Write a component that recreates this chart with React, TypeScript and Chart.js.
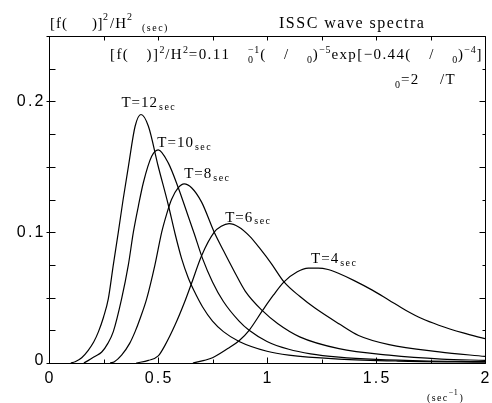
import React, { useEffect, useRef } from "react";
import { Chart, registerables } from "chart.js";

Chart.register(...registerables);

// ---- data ----
const omegaT12 = [0.10, 0.12, 0.15, 0.18, 0.205, 0.227, 0.25, 0.272, 0.295, 0.318, 0.34, 0.364, 0.395, 0.422, 0.456, 0.50, 0.547, 0.578, 0.608, 0.639, 0.666, 0.704, 0.75, 0.80, 0.872, 1.0, 1.1, 1.33, 1.6, 2.0];
const specT12 = [0, 0.001, 0.004, 0.0097, 0.016, 0.024, 0.035, 0.049, 0.075, 0.100, 0.125, 0.150, 0.181, 0.190, 0.181, 0.151, 0.121, 0.099, 0.080, 0.065, 0.055, 0.043, 0.032, 0.024, 0.0165, 0.009, 0.006, 0.003, 0.0015, 0.0007];

const omegaT10 = [0.16, 0.181, 0.21, 0.242, 0.27, 0.295, 0.333, 0.364, 0.387, 0.41, 0.433, 0.471, 0.501, 0.547, 0.593, 0.639, 0.666, 0.704, 0.75, 0.80, 0.872, 0.918, 1.0, 1.1, 1.2, 1.33, 1.5, 1.75, 2.0];
const specT10 = [0, 0.002, 0.005, 0.0084, 0.015, 0.024, 0.049, 0.075, 0.100, 0.120, 0.138, 0.158, 0.163, 0.153, 0.134, 0.112, 0.099, 0.080, 0.062, 0.047, 0.032, 0.025, 0.0165, 0.0105, 0.007, 0.0045, 0.0027, 0.0015, 0.001];

const omegaT8 = [0.28, 0.30, 0.333, 0.37, 0.395, 0.42, 0.448, 0.486, 0.517, 0.54, 0.562, 0.593, 0.62, 0.654, 0.70, 0.758, 0.80, 0.85, 0.90, 0.979, 1.05, 1.15, 1.33, 1.56, 1.8, 2.0];
const specT8 = [0, 0.001, 0.006, 0.015, 0.024, 0.035, 0.049, 0.075, 0.100, 0.114, 0.125, 0.134, 0.137, 0.134, 0.123, 0.100, 0.086, 0.070, 0.055, 0.040, 0.030, 0.020, 0.011, 0.006, 0.003, 0.002];

const omegaT6 = [0.40, 0.456, 0.501, 0.532, 0.578, 0.623, 0.654, 0.70, 0.758, 0.79, 0.826, 0.87, 0.92, 0.97, 1.02, 1.078, 1.15, 1.22, 1.33, 1.42, 1.56, 1.79, 2.0];
const specT6 = [0, 0.002, 0.0054, 0.0135, 0.029, 0.047, 0.061, 0.082, 0.100, 0.1045, 0.1065, 0.104, 0.097, 0.087, 0.076, 0.062, 0.051, 0.042, 0.030, 0.021, 0.014, 0.0085, 0.005];

const omegaT4 = [0.66, 0.712, 0.75, 0.82, 0.872, 0.918, 0.979, 1.03, 1.078, 1.139, 1.19, 1.235, 1.28, 1.33, 1.40, 1.483, 1.56, 1.636, 1.71, 1.788, 1.9, 2.0];
const specT4 = [0, 0.002, 0.004, 0.011, 0.017, 0.025, 0.040, 0.052, 0.062, 0.0697, 0.0725, 0.0726, 0.0715, 0.0684, 0.063, 0.0557, 0.048, 0.0404, 0.034, 0.0289, 0.023, 0.0186];

const periodLabels = ["12", "10", "8", "6", "4"];
const periodLabelOmega = [0.332, 0.497, 0.62, 0.808, 1.202];
const periodLabelSpec = [0.1954, 0.1648, 0.1414, 0.108, 0.0763];

const xTickValues = [0, 0.5, 1, 1.5, 2];
const xTickLabels = ["0", "0.5", "1", "1.5", "2"];
const yTickValues = [0, 0.1, 0.2];
const yTickLabels = ["0", "0.1", "0.2"];

const SERIF = '"Liberation Serif", "Times New Roman", serif';
const SANS = '"Liberation Sans", Arial, sans-serif';

function textWidth(ctx: CanvasRenderingContext2D, text: string, sp: number) {
  let w = 0;
  for (const ch of text) w += ctx.measureText(ch).width + sp;
  return w;
}

function drawSpaced(ctx: CanvasRenderingContext2D, text: string, x: number, y: number, sp: number) {
  let cx = x;
  for (const ch of text) {
    ctx.fillText(ch, cx, y);
    cx += ctx.measureText(ch).width + sp;
  }
  return cx;
}

type Run = { k: "n" | "sup" | "sub" | "gap" | "subsup"; t?: string; t2?: string };

const formulaRuns: Run[] = [
  { k: "n", t: "[f(" }, { k: "gap" }, { k: "n", t: ")]" }, { k: "sup", t: "2" }, { k: "n", t: "/H" }, { k: "sup", t: "2" },
  { k: "n", t: "=0.11" }, { k: "gap" }, { k: "subsup", t: "0", t2: "\u22121" }, { k: "n", t: "(" }, { k: "gap" },
  { k: "n", t: "/" }, { k: "gap" }, { k: "sub", t: "0" }, { k: "n", t: ")" }, { k: "sup", t: "\u22125" },
  { k: "n", t: "exp[\u22120.44(" }, { k: "gap" }, { k: "n", t: "/" }, { k: "gap" }, { k: "sub", t: "0" },
  { k: "n", t: ")" }, { k: "sup", t: "\u22124" }, { k: "n", t: "]" },
];

function drawRuns(ctx: CanvasRenderingContext2D, runs: Run[], x0: number, base: number, endX: number) {
  const big = `15px ${SERIF}`;
  const small = `10px ${SERIF}`;
  const spB = 1.4;
  const spS = 0.8;
  const measure = (r: Run) => {
    if (r.k === "n") { ctx.font = big; return textWidth(ctx, r.t!, spB); }
    if (r.k === "sup" || r.k === "sub") { ctx.font = small; return textWidth(ctx, r.t!, spS); }
    if (r.k === "subsup") { ctx.font = small; return Math.max(textWidth(ctx, r.t!, spS), textWidth(ctx, r.t2!, spS)); }
    return 0;
  };
  let natural = 0;
  let gaps = 0;
  for (const r of runs) { if (r.k === "gap") gaps++; else natural += measure(r); }
  const gap = gaps ? (endX - x0 - natural) / gaps : 0;
  let x = x0;
  for (const r of runs) {
    if (r.k === "gap") { x += gap; continue; }
    const w = measure(r);
    if (r.k === "n") { ctx.font = big; drawSpaced(ctx, r.t!, x, base, spB); }
    else if (r.k === "sup") { ctx.font = small; drawSpaced(ctx, r.t!, x, base - 6, spS); }
    else if (r.k === "sub") { ctx.font = small; drawSpaced(ctx, r.t!, x, base + 4, spS); }
    else { ctx.font = small; drawSpaced(ctx, r.t!, x, base + 4, spS); drawSpaced(ctx, r.t2!, x, base - 6, spS); }
    x += w;
  }
}

const decorPlugin = {
  id: "decor",
  afterDraw(chart: any) {
    const { ctx, chartArea: a, scales } = chart;
    const xs = scales.x;
    const ys = scales.y;
    ctx.save();
    ctx.fillStyle = "#000";
    ctx.strokeStyle = "#000";
    ctx.lineWidth = 1;
    const L = Math.round(a.left) + 0.5;
    const R = Math.round(a.right) + 0.5;
    const T = Math.round(a.top) + 0.5;
    const B = Math.round(a.bottom) + 0.5;
    ctx.beginPath();
    ctx.rect(L, T, R - L, B - T);
    ctx.stroke();

    // tick marks (inward)
    ctx.beginPath();
    for (let i = 0; i <= 8; i++) {
      const v = i * 0.25;
      const px = Math.round(xs.getPixelForValue(v)) + 0.5;
      const major = i % 2 === 0;
      ctx.moveTo(px, B); ctx.lineTo(px, B - (major ? 6 : 4));
      ctx.moveTo(px, T); ctx.lineTo(px, T + 4);
    }
    for (let i = 0; i <= 10; i++) {
      const v = i * 0.025;
      const py = Math.round(ys.getPixelForValue(v)) + 0.5;
      const major = i % 2 === 0;
      ctx.moveTo(major ? L - 3 : L, py); ctx.lineTo(L + 6, py);
      ctx.moveTo(R, py); ctx.lineTo(R - (major ? 6 : 3), py);
    }
    ctx.stroke();

    // axis tick labels
    ctx.font = `16px ${SANS}`;
    ctx.textBaseline = "middle";
    const spT = 2.2;
    xTickValues.forEach((v, i) => {
      const px = xs.getPixelForValue(v);
      const w = textWidth(ctx, xTickLabels[i], spT) - spT;
      drawSpaced(ctx, xTickLabels[i], px - w / 2, B + 15, spT);
    });
    yTickValues.forEach((v, i) => {
      const py = ys.getPixelForValue(v);
      const w = textWidth(ctx, yTickLabels[i], spT) - spT;
      drawSpaced(ctx, yTickLabels[i], L - 6 - w, py + (v === 0 ? -2 : 0.5), spT);
    });
    ctx.textBaseline = "alphabetic";

    // x unit
    ctx.font = `10px ${SERIF}`;
    let ux = drawSpaced(ctx, "(sec", 427, 401, 1.4);
    ctx.font = `8px ${SERIF}`;
    ux = drawSpaced(ctx, "\u22121", ux, 395, 0.6);
    ctx.font = `10px ${SERIF}`;
    drawSpaced(ctx, ")", ux + 1, 401, 1.2);

    // top-left y label
    ctx.font = `15px ${SERIF}`;
    drawSpaced(ctx, "[f(", 50, 28, 1);
    let lx = drawSpaced(ctx, ")]", 92, 28, 0.5);
    ctx.font = `10px ${SERIF}`;
    lx = drawSpaced(ctx, "2", lx, 20, 1);
    ctx.font = `15px ${SERIF}`;
    lx = drawSpaced(ctx, "/H", lx + 1, 28, 1);
    ctx.font = `10px ${SERIF}`;
    drawSpaced(ctx, "2", lx, 20, 1);
    drawSpaced(ctx, "(sec)", 142, 31, 1.5);

    // title
    ctx.font = `16px ${SERIF}`;
    drawSpaced(ctx, "ISSC wave spectra", 279, 28, 1.5);

    // formula
    drawRuns(ctx, formulaRuns, 110, 59, 483);
    ctx.font = `10px ${SERIF}`;
    drawSpaced(ctx, "0", 395, 88, 0.8);
    ctx.font = `15px ${SERIF}`;
    drawSpaced(ctx, "=2", 401, 84, 1.4);
    drawSpaced(ctx, "/T", 440, 84, 1.4);

    // curve labels
    periodLabels.forEach((p, i) => {
      const px = xs.getPixelForValue(periodLabelOmega[i]);
      const py = ys.getPixelForValue(periodLabelSpec[i]);
      ctx.font = `15px ${SERIF}`;
      const e = drawSpaced(ctx, "T=" + p, px, py, 1);
      ctx.font = `10px ${SERIF}`;
      drawSpaced(ctx, "sec", e + 1, py + 2.5, 1.5);
    });
    ctx.restore();
  },
};

export default function App() {
  const ref = useRef<HTMLCanvasElement | null>(null);
  useEffect(() => {
    if (!ref.current) return;
    const series = [
      [omegaT12, specT12],
      [omegaT10, specT10],
      [omegaT8, specT8],
      [omegaT6, specT6],
      [omegaT4, specT4],
    ];
    const chart = new Chart(ref.current, {
      type: "line",
      data: {
        datasets: series.map(([xs, ys], i) => ({
          label: "T=" + periodLabels[i],
          data: xs.map((x, j) => ({ x, y: ys[j] })),
          borderColor: "#000",
          borderWidth: 1.2,
          pointRadius: 0,
          fill: false,
          cubicInterpolationMode: "monotone" as const,
        })),
      },
      options: {
        animation: false,
        responsive: false,
        maintainAspectRatio: false,
        layout: { padding: { left: 49, top: 36, right: 7, bottom: 40 } },
        scales: {
          x: { type: "linear", min: 0, max: 2, display: false },
          y: { type: "linear", min: 0, max: 0.25, display: false },
        },
        plugins: { legend: { display: false }, tooltip: { enabled: false } },
      },
      plugins: [decorPlugin],
    });
    return () => chart.destroy();
  }, []);
  return (
    <div style={{ position: "absolute", left: 0, top: 0, width: 492, height: 403, background: "#fff" }}>
      <canvas ref={ref} width={492} height={403} style={{ display: "block" }} />
    </div>
  );
}
